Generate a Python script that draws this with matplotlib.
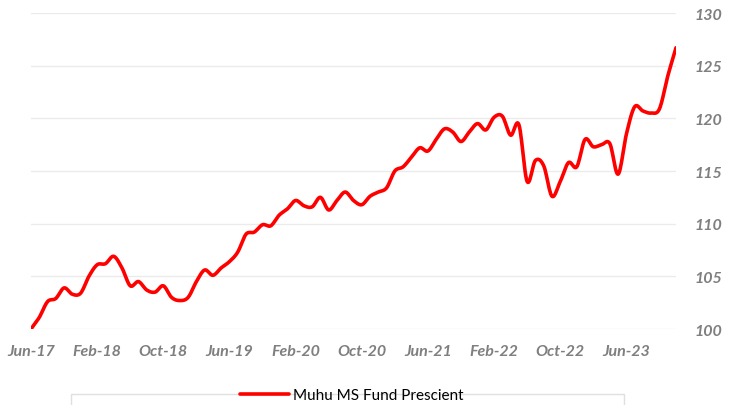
import numpy as np
import pandas as pd
import matplotlib
matplotlib.use("Agg")
import matplotlib.pyplot as plt
from matplotlib.patches import Rectangle

# 月度数据 Jun-17 ~ Dec-23
start_month = "2017-06-01"
series_name = "Muhu MS Fund Prescient"
values = [
    100.0, 101.1, 102.6, 102.9, 103.9, 103.3, 103.4, 105.0, 106.1, 106.2,
    106.9, 105.8, 104.1, 104.5, 103.7, 103.5, 104.1, 103.0, 102.7, 103.0,
    104.5, 105.6, 105.1, 105.8, 106.4, 107.3, 109.0, 109.2, 109.9, 109.8,
    110.8, 111.4, 112.2, 111.7, 111.6, 112.5, 111.3, 112.2, 113.0, 112.2,
    111.8, 112.6, 113.0, 113.4, 115.0, 115.4, 116.3, 117.2, 116.9, 118.0,
    119.0, 118.7, 117.8, 118.7, 119.5, 118.9, 120.1, 120.2, 118.4, 119.4,
    114.0, 116.0, 115.5, 112.6, 114.0, 115.8, 115.4, 118.0, 117.3, 117.5,
    117.6, 114.7, 118.5, 121.1, 120.7, 120.5, 120.9, 124.0, 126.7,
]
y_ticks = [100, 105, 110, 115, 120, 125, 130]
tick_step = 8  # 每8个月一个标签

dates = pd.date_range(start_month, periods=len(values), freq="MS")
x = np.arange(len(values))
y = np.array(values)


# Excel 风格的平滑线 (Catmull-Rom)
def smooth(xs, ys, n=12):
    px = np.concatenate([[xs[0]], xs, [xs[-1]]])
    py = np.concatenate([[ys[0]], ys, [ys[-1]]])
    out_x, out_y = [], []
    t = np.linspace(0, 1, n, endpoint=False)
    for i in range(1, len(px) - 2):
        for arr, out in ((px, out_x), (py, out_y)):
            p0, p1, p2, p3 = arr[i - 1], arr[i], arr[i + 1], arr[i + 2]
            seg = 0.5 * ((2 * p1) + (-p0 + p2) * t
                         + (2 * p0 - 5 * p1 + 4 * p2 - p3) * t**2
                         + (-p0 + 3 * p1 - 3 * p2 + p3) * t**3)
            out.extend(seg)
    out_x.append(xs[-1])
    out_y.append(ys[-1])
    return np.array(out_x), np.array(out_y)


plt.rcParams["font.family"] = ["Lato", "DejaVu Sans"]

fig = plt.figure(figsize=(7.34, 4.06), dpi=100)
ax = fig.add_axes([31 / 734, 1 - 330 / 406, 645 / 734, 316 / 406])

sx, sy = smooth(x, y)
(line,) = ax.plot(sx, sy, color="#FF0000", lw=2.6, solid_capstyle="round",
                  label=series_name)

ax.set_xlim(0, len(values) - 1)
ax.set_ylim(100, 130)
ax.set_yticks(y_ticks)
ax.yaxis.tick_right()
ax.grid(axis="y", color="#ebebeb", lw=1)
ax.set_axisbelow(True)
for s in ax.spines.values():
    s.set_visible(False)
ax.tick_params(length=0)
ax.tick_params(axis="y", pad=13)
ax.tick_params(axis="x", pad=11)

xt = x[::tick_step]
ax.set_xticks(xt)
ax.set_xticklabels([d.strftime("%b-%y") for d in dates[::tick_step]])
for lab in ax.get_xticklabels() + ax.get_yticklabels():
    lab.set_color("#7f7f7f")
    lab.set_fontweight("bold")
    lab.set_fontstyle("italic")
    lab.set_fontsize(11.5)

# 图例框
fig.patches.append(Rectangle((71 / 734, -0.05), 553 / 734, 0.05 + 1 - 395 / 406,
                             transform=fig.transFigure, facecolor="white",
                             edgecolor="#e0e0e0", lw=1))
fig.legend(handles=[line], loc="center", bbox_to_anchor=(352 / 734, 1 - 396 / 406),
           frameon=False, fontsize=11, handlelength=3.2, handletextpad=0.3)

fig.savefig("out.png", dpi=100)
